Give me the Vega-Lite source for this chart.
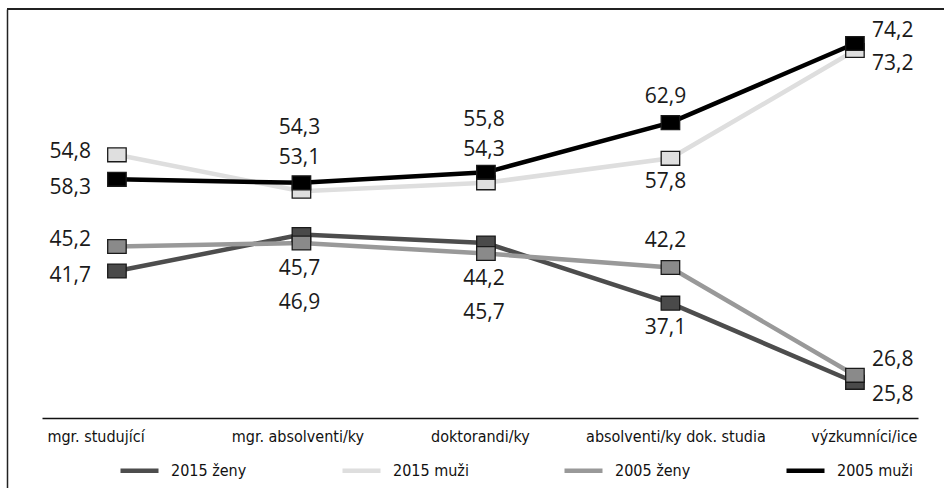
{
  "$schema": "https://vega.github.io/schema/vega-lite/v6.json",
  "width": 937,
  "height": 479,
  "autosize": {"type": "none"},
  "padding": {"left": 7, "top": 9, "right": 0, "bottom": 0},
  "background": "white",
  "params": [
    {"name": "kat", "value": ["mgr. studující", "mgr. absolventi/ky", "doktorandi/ky", "absolventi/ky dok. studia", "výzkumníci/ice"]},
    {"name": "dyT", "value": {
      "2015 ženy": [5, 68, 70, 25, 13],
      "2015 muži": [33, -33, -33, 24, 13],
      "2005 ženy": [-7, 26, 25, -27, -15],
      "2005 muži": [-27, -55, -52, -26, -13]
    }}
  ],
  "data": {
    "values": [
      {"kategorie": "mgr. studující", "serie": "2015 ženy", "hodnota": 41.7},
      {"kategorie": "mgr. absolventi/ky", "serie": "2015 ženy", "hodnota": 46.9},
      {"kategorie": "doktorandi/ky", "serie": "2015 ženy", "hodnota": 45.7},
      {"kategorie": "absolventi/ky dok. studia", "serie": "2015 ženy", "hodnota": 37.1},
      {"kategorie": "výzkumníci/ice", "serie": "2015 ženy", "hodnota": 25.8},
      {"kategorie": "mgr. studující", "serie": "2015 muži", "hodnota": 58.3},
      {"kategorie": "mgr. absolventi/ky", "serie": "2015 muži", "hodnota": 53.1},
      {"kategorie": "doktorandi/ky", "serie": "2015 muži", "hodnota": 54.3},
      {"kategorie": "absolventi/ky dok. studia", "serie": "2015 muži", "hodnota": 57.8},
      {"kategorie": "výzkumníci/ice", "serie": "2015 muži", "hodnota": 73.2},
      {"kategorie": "mgr. studující", "serie": "2005 ženy", "hodnota": 45.2},
      {"kategorie": "mgr. absolventi/ky", "serie": "2005 ženy", "hodnota": 45.7},
      {"kategorie": "doktorandi/ky", "serie": "2005 ženy", "hodnota": 44.2},
      {"kategorie": "absolventi/ky dok. studia", "serie": "2005 ženy", "hodnota": 42.2},
      {"kategorie": "výzkumníci/ice", "serie": "2005 ženy", "hodnota": 26.8},
      {"kategorie": "mgr. studující", "serie": "2005 muži", "hodnota": 54.8},
      {"kategorie": "mgr. absolventi/ky", "serie": "2005 muži", "hodnota": 54.3},
      {"kategorie": "doktorandi/ky", "serie": "2005 muži", "hodnota": 55.8},
      {"kategorie": "absolventi/ky dok. studia", "serie": "2005 muži", "hodnota": 62.9},
      {"kategorie": "výzkumníci/ice", "serie": "2005 muži", "hodnota": 74.2}
    ]
  },
  "config": {
    "view": {"stroke": null},
    "locale": {"number": {"decimal": ",", "thousands": " ", "grouping": [3], "currency": ["", " Kč"]}},
    "axisY": {"domain": true, "domainColor": "#222222", "domainWidth": 1.5, "ticks": false, "labels": false, "grid": false}
  },
  "layer": [
    {
      "mark": {"type": "rule", "color": "#222222", "strokeWidth": 1.5},
      "encoding": {
        "y": {"datum": 79.13, "type": "quantitative", "title": null}
      }
    },
    {
      "mark": {"type": "line", "strokeWidth": 4.5},
      "encoding": {
        "x": {
          "field": "kategorie", "type": "nominal",
          "scale": {"type": "point", "domain": ["mgr. studující", "mgr. absolventi/ky", "doktorandi/ky", "absolventi/ky dok. studia", "výzkumníci/ice"], "range": [35, 911], "padding": 0.374, "align": 0.543},
          "axis": {
            "orient": "bottom", "offset": -70, "title": null,
            "domain": true, "domainColor": "#111111", "domainWidth": 1.3,
            "ticks": false, "tickSize": 0, "grid": false,
            "labelFont": "DejaVu Sans Condensed", "labelFontSize": 16, "labelColor": "#111111",
            "labelPadding": 10, "labelBaseline": "top", "labelAngle": 0, "labelLimit": 300, "labelOverlap": false,
            "labelAlign": {"condition": [
              {"test": "datum.value === 'mgr. studující'", "value": "left"},
              {"test": "datum.value === 'výzkumníci/ice'", "value": "right"}
            ], "value": "center"},
            "labelOffset": {"condition": [
              {"test": "datum.value === 'mgr. studující'", "value": -70},
              {"test": "datum.value === 'mgr. absolventi/ky'", "value": -4},
              {"test": "datum.value === 'doktorandi/ky'", "value": -6},
              {"test": "datum.value === 'absolventi/ky dok. studia'", "value": 5},
              {"test": "datum.value === 'výzkumníci/ice'", "value": 62}
            ], "value": 0}
          }
        },
        "y": {"field": "hodnota", "type": "quantitative", "title": null, "scale": {"domain": [10.7, 79.13], "nice": false, "zero": false}},
        "color": {
          "field": "serie", "type": "nominal",
          "scale": {"domain": ["2015 ženy", "2015 muži", "2005 ženy", "2005 muži"], "range": ["#4d4d4d", "#dedede", "#999999", "#000000"]},
          "legend": {
            "orient": "none", "legendX": 111, "legendY": 440, "direction": "horizontal", "columns": 4,
            "title": null, "symbolType": "stroke", "symbolSize": 1444, "symbolStrokeWidth": 4.5,
            "labelFont": "DejaVu Sans Condensed", "labelFontSize": 16, "labelColor": "#111111",
            "labelOffset": 10, "columnPadding": 86, "gridAlign": "all", "padding": 0
          }
        }
      }
    },
    {
      "mark": {"type": "point", "shape": "M-1,-0.75H1V0.75H-1Z", "size": 342, "filled": true, "stroke": "#1a1a1a", "strokeWidth": 1.3, "opacity": 1},
      "encoding": {
        "x": {"field": "kategorie", "type": "nominal"},
        "y": {"field": "hodnota", "type": "quantitative", "title": null},
        "fill": {
          "field": "serie", "type": "nominal",
          "scale": {"domain": ["2015 ženy", "2015 muži", "2005 ženy", "2005 muži"], "range": ["#4a4a4a", "#dfdfdf", "#8a8a8a", "#000000"]},
          "legend": null
        }
      }
    },
    {
      "mark": {
        "type": "text", "font": "Open Sans", "fontSize": 21, "color": "#1a1a1a", "baseline": "middle",
        "align": {"expr": "datum.kategorie === 'mgr. studující' ? 'right' : datum.kategorie === 'výzkumníci/ice' ? 'left' : 'center'"},
        "dx": {"expr": "datum.kategorie === 'mgr. studující' ? -26 : datum.kategorie === 'výzkumníci/ice' ? 17 : datum.kategorie === 'absolventi/ky dok. studia' ? -5 : -2"},
        "dy": {"expr": "dyT[datum.serie][indexof(kat, datum.kategorie)]"}
      },
      "encoding": {
        "x": {"field": "kategorie", "type": "nominal"},
        "y": {"field": "hodnota", "type": "quantitative", "title": null},
        "text": {"field": "hodnota", "type": "quantitative", "format": ".1f"}
      }
    }
  ]
}
